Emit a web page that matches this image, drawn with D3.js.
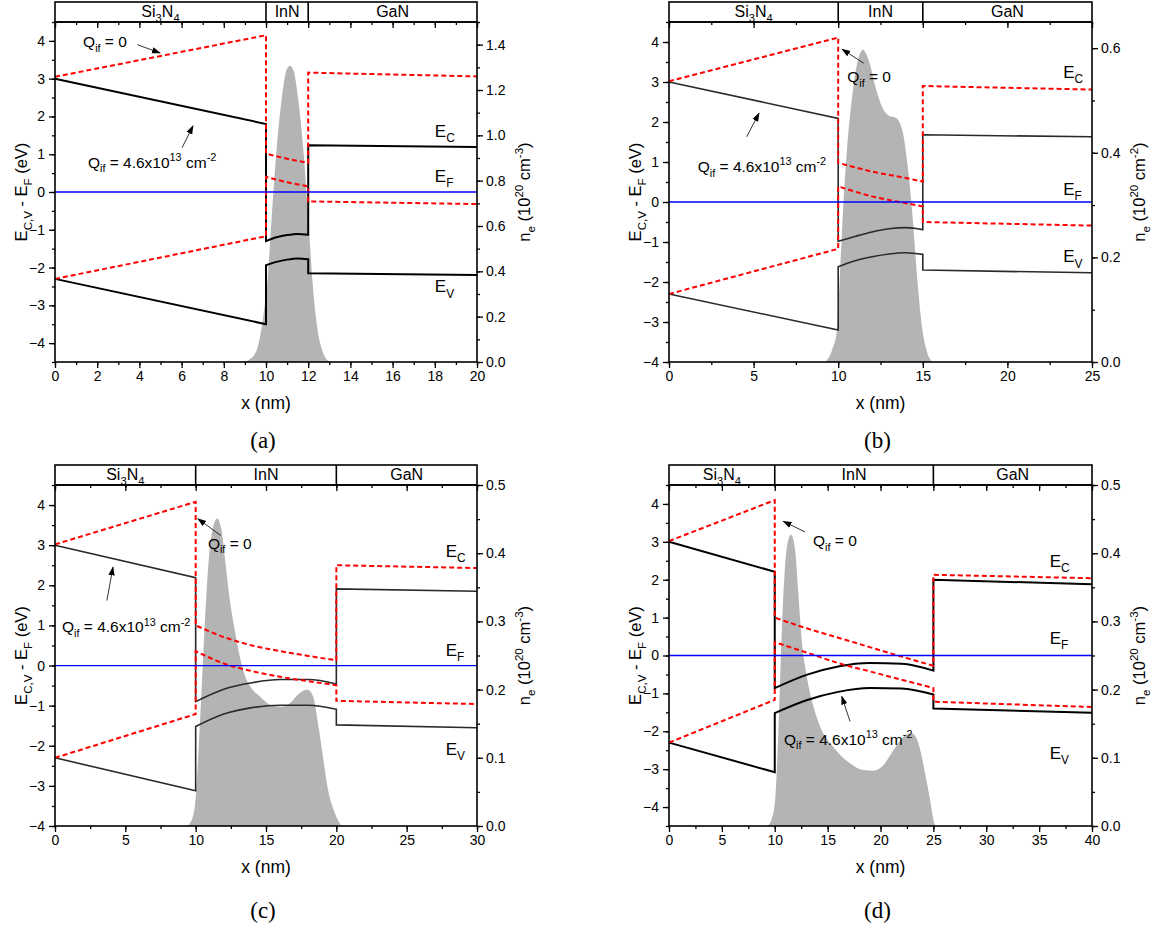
<!DOCTYPE html>
<html>
<head>
<meta charset="utf-8">
<script src="https://cdn.jsdelivr.net/npm/d3@7"></script>
<style>
  body { margin: 0; background: #fff; }
  text { font-family: "Liberation Sans", Arial, sans-serif; fill: #000; }
</style>
</head>
<body>
<svg id="chart" width="1153" height="928"></svg>
<script>
// layer stacks (nm)
const layersA = [0, 10, 12, 20];
const layersB = [0, 10, 15, 25];
const layersC = [0, 10, 20, 30];
const layersD = [0, 10, 25, 40];

// (a) band edges, eV. black = Qif 4.6e13, red = Qif 0
const ecA = [[0, 3.0], [10, 1.8], [10, -1.3], [10.5, -1.2], [11, -1.14], [11.5, -1.11], [12, -1.13], [12, 1.24], [20, 1.19]];
const evA = [[0, -2.3], [10, -3.5], [10, -1.94], [10.5, -1.85], [11, -1.79], [11.5, -1.76], [12, -1.78], [12, -2.15], [20, -2.2]];
const ec0A = [[0, 3.05], [10, 4.15], [10, 1.02], [11, 0.88], [12, 0.77], [12, 3.16], [20, 3.06]];
const ev0A = [[0, -2.3], [10, -1.17], [10, 0.4], [11, 0.26], [12, 0.15], [12, -0.25], [20, -0.32]];
const neA = [[8.9, 0], [9.2, 0.01], [9.56, 0.053], [9.87, 0.2], [10.06, 0.347], [10.27, 0.64], [10.5, 0.936], [10.74, 1.157],
  [10.98, 1.29], [11.14, 1.307], [11.29, 1.29], [11.53, 1.157], [11.77, 0.936], [12.0, 0.64], [12.21, 0.347], [12.4, 0.171],
  [12.72, 0.038], [13.03, 0]];

// (b)
const ecB = [[0, 3.0], [10, 2.09], [10, -0.98], [11, -0.86], [12, -0.75], [13, -0.67], [14, -0.64], [15, -0.69], [15, 1.68], [25, 1.63]];
const evB = [[0, -2.3], [10, -3.2], [10, -1.62], [11, -1.47], [12, -1.37], [13, -1.3], [14, -1.27], [15, -1.31], [15, -1.7], [25, -1.77]];
const ec0B = [[0, 3.02], [10, 4.11], [10, 0.98], [12, 0.76], [14, 0.6], [15, 0.51], [15, 2.9], [25, 2.81]];
const ev0B = [[0, -2.3], [10, -1.17], [10, 0.39], [12, 0.14], [14, -0.03], [15, -0.11], [15, -0.5], [25, -0.59]];
const neB = [[9.24, 0], [9.64, 0.023], [9.93, 0.061], [10.13, 0.188], [10.33, 0.315], [10.53, 0.41], [10.82, 0.506], [11.12, 0.57],
  [11.46, 0.597], [11.81, 0.576], [12.21, 0.525], [12.6, 0.487], [13.0, 0.471], [13.4, 0.467], [13.79, 0.443], [14.09, 0.379],
  [14.38, 0.284], [14.68, 0.156], [14.98, 0.061], [15.27, 0.017], [15.57, 0]];

// (c)
const ecC = [[0, 3.0], [10, 2.19], [10, -0.9], [12, -0.59], [14, -0.43], [16, -0.35], [18, -0.35], [20, -0.46], [20, 1.91], [30, 1.85]];
const evC = [[0, -2.3], [10, -3.12], [10, -1.52], [12, -1.21], [14, -1.05], [16, -0.99], [18, -0.99], [20, -1.09], [20, -1.48], [30, -1.55]];
const ec0C = [[0, 3.02], [10, 4.08], [10, 1.0], [12, 0.71], [14, 0.5], [16, 0.36], [18, 0.24], [20, 0.13], [20, 2.5], [30, 2.43]];
const ev0C = [[0, -2.3], [10, -1.21], [10, 0.36], [12, 0.05], [14, -0.14], [16, -0.28], [18, -0.39], [20, -0.49], [20, -0.88], [30, -0.96]];
const neC = [[9.3, 0], [9.59, 0.004], [9.94, 0.028], [10.18, 0.1], [10.42, 0.2], [10.65, 0.297], [10.89, 0.38], [11.25, 0.439],
  [11.53, 0.451], [11.84, 0.434], [12.07, 0.394], [12.43, 0.331], [12.78, 0.287], [13.14, 0.248], [13.49, 0.221], [13.97, 0.202],
  [14.56, 0.19], [15.5, 0.176], [16.1, 0.175], [16.69, 0.18], [17.4, 0.195], [17.94, 0.2], [18.35, 0.19], [18.7, 0.15],
  [19.06, 0.1], [19.41, 0.053], [19.89, 0.019], [20.36, 0]];

// (d)
const ecD = [[0, 3.0], [10, 2.21], [10, -0.86], [13, -0.51], [16, -0.29], [19, -0.2], [22, -0.22], [25, -0.4], [25, 2.0], [40, 1.88]];
const evD = [[0, -2.3], [10, -3.08], [10, -1.52], [13, -1.18], [16, -0.96], [19, -0.86], [22, -0.87], [25, -1.03], [25, -1.4], [40, -1.51]];
const ec0D = [[0, 3.02], [10, 4.1], [10, 1.0], [13, 0.72], [16, 0.47], [19, 0.22], [22, -0.03], [25, -0.27], [25, 2.13], [40, 2.04]];
const ev0D = [[0, -2.3], [10, -1.17], [10, 0.35], [13, 0.08], [16, -0.2], [19, -0.42], [22, -0.64], [25, -0.86], [25, -1.22], [40, -1.36]];
const neD = [[9.3, 0], [9.7, 0.01], [10.03, 0.038], [10.34, 0.136], [10.66, 0.283], [10.97, 0.38], [11.29, 0.42], [11.54, 0.427],
  [11.92, 0.405], [12.23, 0.341], [12.55, 0.273], [13.03, 0.219], [13.5, 0.185], [14.29, 0.146], [15.54, 0.116], [17.12, 0.092],
  [18.38, 0.082], [19.33, 0.081], [20.27, 0.089], [21.22, 0.111], [22.17, 0.131], [22.96, 0.136], [23.59, 0.121], [24.22, 0.077],
  [24.69, 0.038], [25.07, 0.005], [25.2, 0]];

const svg = d3.select("#chart");
svg.append("defs").append("marker")
  .attr("id", "arr").attr("viewBox", "0 0 10 10").attr("refX", 9).attr("refY", 5)
  .attr("markerWidth", 9).attr("markerHeight", 9).attr("markerUnits", "userSpaceOnUse")
  .attr("orient", "auto")
  .append("path").attr("d", "M0,1.5L10,5L0,8.5Z").attr("fill", "#000");

// text with sub/superscripts; parts = [text, mode] pairs
function rich(sel, parts, size) {
  let shift = 0;
  parts.forEach(([s, mode]) => {
    const target = mode === "sub" ? size * 0.3 : mode === "sup" ? -size * 0.42 : 0;
    sel.append("tspan").attr("dy", target - shift).attr("font-size", mode ? size * 0.7 : size).text(s);
    shift = target;
  });
  return sel;
}

const qZero = [["Q"], ["if", "sub"], [" = 0"]];
const qIf = [["Q"], ["if", "sub"], [" = 4.6x10"], ["13", "sup"], [" cm"], ["-2", "sup"]];
const si3n4 = [["Si"], ["3", "sub"], ["N"], ["4", "sub"]];

// smooth inside each layer, straight vertical steps at interfaces
function bandPath(s, x, y) {
  const segs = [];
  let cur = [s[0]];
  for (let i = 1; i < s.length; i++) {
    if (s[i][0] === s[i - 1][0]) { segs.push(cur); cur = [s[i]]; }
    else cur.push(s[i]);
  }
  segs.push(cur);
  const line = d3.line().x(d => x(d[0])).y(d => y(d[1])).curve(d3.curveMonotoneX);
  return segs.map((seg, i) => {
    const d = line(seg.length > 1 ? seg : [seg[0], seg[0]]);
    return i ? "L" + d.slice(1) : d;
  }).join("");
}

function drawPanel(p) {
  const g = svg.append("g");
  const x = d3.scaleLinear().domain([0, p.xMax]).range([p.left, p.right]);
  const y = d3.scaleLinear().domain(p.yDom).range([p.bottom, p.top]);
  const yR = d3.scaleLinear().domain([0, p.rMax]).range([p.bottom, p.top]);

  // electron density
  g.append("path").datum(p.ne)
    .attr("fill", "#b4b4b4")
    .attr("d", d3.area().x(d => x(d[0])).y0(yR(0)).y1(d => yR(d[1])).curve(d3.curveMonotoneX));

  [p.ec, p.ev].forEach(s => g.append("path")
    .attr("fill", "none").attr("stroke", p.black).attr("stroke-width", p.lw).attr("d", bandPath(s, x, y)));
  [p.ec0, p.ev0].forEach(s => g.append("path")
    .attr("fill", "none").attr("stroke", "#ff0000").attr("stroke-width", 2)
    .attr("stroke-dasharray", "5,3").attr("d", bandPath(s, x, y)));
  g.append("line").attr("x1", x(0)).attr("x2", x(p.xMax)).attr("y1", y(0)).attr("y2", y(0))
    .attr("stroke", "#0000ff").attr("stroke-width", 1.3);

  // axes
  const noDomain = a => a.select(".domain").remove();
  const xMajor = d3.range(0, p.xMax + 1e-9, p.xStep);
  const xMinor = d3.range(0, p.xMax + 1e-9, p.xStep / 2);
  const yMajor = d3.range(-4, 4 + 1e-9, 1);
  const yMinor = d3.range(p.yDom[0], p.yDom[1] + 1e-9, 0.5);
  const rMajor = d3.range(0, p.rMax + 1e-9, p.rStep);
  const rMinor = d3.range(0, p.rMax + 1e-9, p.rStep / 2);
  const fmt = d3.format(".1f");

  g.append("g").attr("transform", `translate(0,${p.bottom})`)
    .call(d3.axisBottom(x).tickValues(xMinor).tickSize(3).tickFormat("")).call(noDomain);
  g.append("g").attr("transform", `translate(0,${p.bottom})`)
    .call(d3.axisBottom(x).tickValues(xMajor).tickSize(6).tickPadding(3).tickFormat(d3.format("d"))).call(noDomain);
  g.append("g").attr("transform", `translate(0,${p.top})`)
    .call(d3.axisTop(x).tickValues(xMinor).tickSize(-3).tickFormat("")).call(noDomain);
  g.append("g").attr("transform", `translate(0,${p.top})`)
    .call(d3.axisTop(x).tickValues(xMajor).tickSize(-6).tickFormat("")).call(noDomain);
  g.append("g").attr("transform", `translate(${p.left},0)`)
    .call(d3.axisLeft(y).tickValues(yMinor).tickSize(3).tickFormat("")).call(noDomain);
  g.append("g").attr("transform", `translate(${p.left},0)`)
    .call(d3.axisLeft(y).tickValues(yMajor).tickSize(6).tickPadding(4).tickFormat(d3.format("d"))).call(noDomain);
  g.append("g").attr("transform", `translate(${p.right},0)`)
    .call(d3.axisRight(yR).tickValues(rMinor).tickSize(3).tickFormat("")).call(noDomain);
  g.append("g").attr("transform", `translate(${p.right},0)`)
    .call(d3.axisRight(yR).tickValues(rMajor).tickSize(6).tickPadding(3).tickFormat(fmt)).call(noDomain);
  g.selectAll(".tick line").attr("stroke", "#000").attr("stroke-width", 1.3);
  g.selectAll(".tick text").attr("font-size", 14).attr("font-family", "Liberation Sans, Arial, sans-serif");

  // frame and layer header
  g.append("rect").attr("x", p.left).attr("y", p.top).attr("width", p.right - p.left)
    .attr("height", p.bottom - p.top).attr("fill", "none").attr("stroke", "#000").attr("stroke-width", 1.6);
  g.append("rect").attr("x", p.left).attr("y", p.top - 20).attr("width", p.right - p.left)
    .attr("height", 20).attr("fill", "none").attr("stroke", "#000").attr("stroke-width", 1.6);
  p.layers.slice(1, -1).forEach(b => g.append("line")
    .attr("x1", x(b)).attr("x2", x(b)).attr("y1", p.top - 20).attr("y2", p.top)
    .attr("stroke", "#000").attr("stroke-width", 1.6));
  [si3n4, [["InN"]], [["GaN"]]].forEach((parts, i) => {
    const t = g.append("text").attr("x", x((p.layers[i] + p.layers[i + 1]) / 2)).attr("y", p.top - 5)
      .attr("text-anchor", "middle");
    rich(t, parts, 16);
  });

  // axis titles
  const lt = g.append("text").attr("text-anchor", "middle")
    .attr("transform", `translate(${p.left - 28},${(p.top + p.bottom) / 2}) rotate(-90)`);
  rich(lt, [["E"], ["C,V", "sub"], [" - E"], ["F", "sub"], [" (eV)"]], 16.5);
  const rt = g.append("text").attr("text-anchor", "middle")
    .attr("transform", `translate(${p.right + 53},${(p.top + p.bottom) / 2}) rotate(-90)`);
  rich(rt, [["n"], ["e", "sub"], [" (10"], ["20", "sup"], [" cm"], [p.rUnit, "sup"], [")"]], 16.5);
  g.append("text").attr("x", (p.left + p.right) / 2).attr("y", p.bottom + 47)
    .attr("text-anchor", "middle").attr("font-size", 17.5).text("x (nm)");

  // band labels
  [["C", p.labC], ["F", p.labF], ["V", p.labV]].forEach(([s, e]) => {
    const t = g.append("text").attr("x", x(p.labX)).attr("y", y(e));
    rich(t, [["E"], [s, "sub"]], 17);
  });

  // annotations
  const a0 = g.append("text").attr("x", x(p.q0[0])).attr("y", y(p.q0[1]));
  rich(a0, qZero, 15.5);
  const a1 = g.append("text").attr("x", x(p.q1[0])).attr("y", y(p.q1[1]));
  rich(a1, qIf, 15.5);
  [p.arr0, p.arr1].forEach(a => g.append("line")
    .attr("x1", x(a[0])).attr("y1", y(a[1])).attr("x2", x(a[2])).attr("y2", y(a[3]))
    .attr("stroke", "#000").attr("stroke-width", 0.8).attr("marker-end", "url(#arr)"));

  // caption
  g.append("text").attr("x", (p.left + p.right) / 2 - 3).attr("y", p.capY)
    .attr("text-anchor", "middle").attr("dominant-baseline", "central")
    .attr("font-size", 23).style("font-family", "Liberation Serif, DejaVu Serif, serif").text(p.caption);
}

drawPanel({
  caption: "(a)", capY: 440, left: 55, right: 477, top: 22, bottom: 362,
  xMax: 20, xStep: 2, yDom: [-4.5, 4.5], rMax: 1.5, rStep: 0.2, rUnit: "-3",
  layers: layersA, ec: ecA, ev: evA, ec0: ec0A, ev0: ev0A, ne: neA, black: "#000", lw: 2,
  labX: 18.0, labC: 1.46, labF: 0.27, labV: -2.66,
  q0: [1.33, 3.83], arr0: [3.9, 3.9, 4.98, 3.68],
  q1: [1.56, 0.64], arr1: [6.02, 1.17, 6.54, 1.75]
});
drawPanel({
  caption: "(b)", capY: 440, left: 669, right: 1092, top: 22, bottom: 362,
  xMax: 25, xStep: 5, yDom: [-4, 4.5], rMax: 0.65, rStep: 0.2, rUnit: "-2",
  layers: layersB, ec: ecB, ev: evB, ec0: ec0B, ev0: ev0B, ne: neB, black: "#2a2a2a", lw: 1.6,
  labX: 23.3, labC: 3.1, labF: 0.18, labV: -1.51,
  q0: [10.53, 3.0], arr0: [11.5, 3.47, 10.23, 3.82],
  q1: [1.7, 0.75], arr1: [4.59, 1.63, 5.32, 2.22]
});
drawPanel({
  caption: "(c)", capY: 910, left: 55, right: 477, top: 485, bottom: 826,
  xMax: 30, xStep: 5, yDom: [-4, 4.5], rMax: 0.5, rStep: 0.1, rUnit: "-3",
  layers: layersC, ec: ecC, ev: evC, ec0: ec0C, ev0: ev0C, ne: neC, black: "#2a2a2a", lw: 1.6,
  labX: 27.77, labC: 2.7, labF: 0.23, labV: -2.23,
  q0: [10.87, 2.91], arr0: [11.79, 3.24, 10.16, 3.66],
  q1: [0.5, 0.83], arr1: [3.69, 1.62, 4.12, 2.45]
});
drawPanel({
  caption: "(d)", capY: 910, left: 669, right: 1092, top: 485, bottom: 826,
  xMax: 40, xStep: 5, yDom: [-4.5, 4.5], rMax: 0.5, rStep: 0.1, rUnit: "-3",
  layers: layersD, ec: ecD, ev: evD, ec0: ec0D, ev0: ev0D, ne: neD, black: "#000", lw: 2,
  labX: 36.0, labC: 2.34, labF: 0.31, labV: -2.74,
  q0: [13.62, 2.89], arr0: [12.87, 3.26, 10.81, 3.54],
  q1: [10.88, -2.35], arr1: [17.12, -1.74, 16.34, -1.08]
});
</script>
</body>
</html>
